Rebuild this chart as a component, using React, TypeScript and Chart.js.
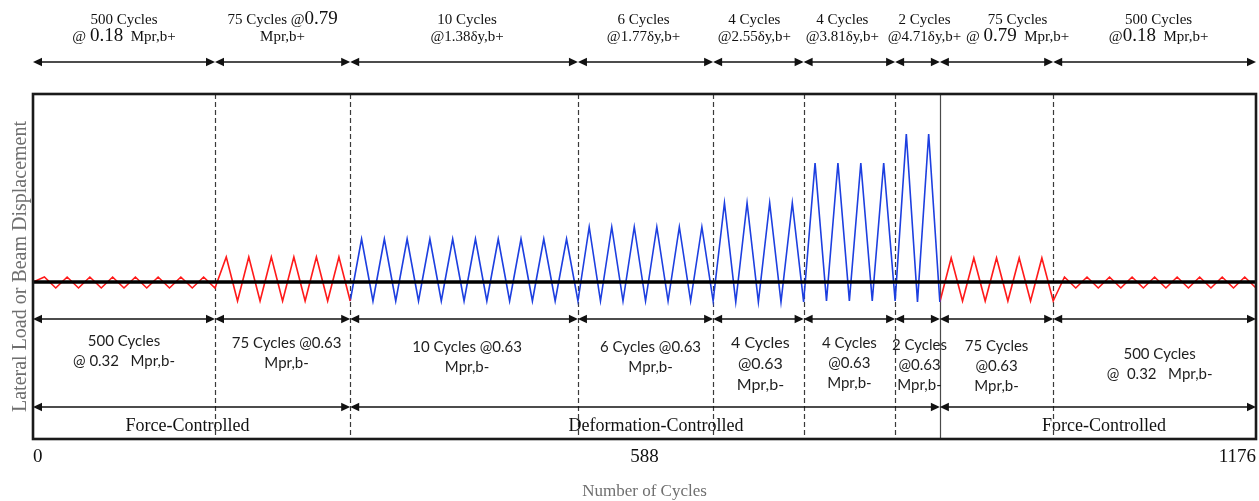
import React, { useEffect, useRef } from 'react';
import { Chart, registerables } from 'chart.js';

Chart.register(...registerables);

// ---------------- data ----------------
const xTickValues = [0, 588, 1176];
// loading-protocol segments along the (schematic) cycle axis
const segmentBounds = [0, 175, 305, 524, 654, 741, 829, 872, 981, 1176];
const segmentPeaks = [8, 6, 10, 6, 4, 4, 2, 5, 9];
const segmentPositive = [5, 25, 43, 55, 79, 119, 148, 24, 5];
const segmentNegative = [-6, -19, -19, -19, -20, -19, -20, -19, -6];
const segmentControl = ['force', 'force', 'deformation', 'deformation', 'deformation', 'deformation', 'deformation', 'force', 'force'];
const phaseBounds = [0, 305, 872, 1176];
const phaseLabels = ['Force-Controlled', 'Deformation-Controlled', 'Force-Controlled'];
const topLabels = [
  ['500 Cycles', '@ 0.18  Mpr,b+'],
  ['75 Cycles @0.79', 'Mpr,b+'],
  ['10 Cycles', '@1.38δy,b+'],
  ['6 Cycles', '@1.77δy,b+'],
  ['4 Cycles', '@2.55δy,b+'],
  ['4 Cycles', '@3.81δy,b+'],
  ['2 Cycles', '@4.71δy,b+'],
  ['75 Cycles', '@ 0.79  Mpr,b+'],
  ['500 Cycles', '@0.18  Mpr,b+'],
];
const bottomLabels = [
  ['500 Cycles', '@ 0.32   Mpr,b-'],
  ['75 Cycles @0.63', 'Mpr,b-'],
  ['10 Cycles @0.63', 'Mpr,b-'],
  ['6 Cycles @0.63', 'Mpr,b-'],
  ['4 Cycles', '@0.63', 'Mpr,b-'],
  ['4 Cycles', '@0.63', 'Mpr,b-'],
  ['2 Cycles', '@0.63', 'Mpr,b-'],
  ['75 Cycles', '@0.63', 'Mpr,b-'],
  ['500 Cycles', '@  0.32   Mpr,b-'],
];
const yTitle = 'Lateral Load or Beam Displacement';
const xTitle = 'Number of Cycles';

// ---------------- styles / layout ----------------
const W = 1259;
const H = 501;
const SERIF = '"Liberation Serif", "Times New Roman", serif';
const SANS = 'Lato, "Open Sans", sans-serif';
const controlColor: Record<string, string> = { force: '#ff1a1a', deformation: '#1d3fe0' };
const topDx = [0, 0, 3, -2, -4, -7, 7, 21, 4];
const bottomDx = [0, 4, 3, 5, 2, 0, 2, 0, 5];
const bottomBase = [346, 348, 352, 352, 348, 348, 350, 351, 359];
const bottomSize = [15, 15, 15, 15, 16, 15, 15, 15, 15];
const phaseDx = [-4, 11, 6];

function buildGroups() {
  const groups: { control: string; pts: { x: number; y: number }[] }[] = [];
  let last = { x: segmentBounds[0], y: 0 };
  segmentPeaks.forEach((n, i) => {
    const b0 = segmentBounds[i];
    const b1 = segmentBounds[i + 1];
    const step = (b1 - b0) / (2 * n);
    let g = groups[groups.length - 1];
    if (!g || g.control !== segmentControl[i]) {
      g = { control: segmentControl[i], pts: [last] };
      groups.push(g);
    }
    for (let k = 1; k <= 2 * n; k++) {
      last = { x: b0 + k * step, y: k % 2 ? segmentPositive[i] : segmentNegative[i] };
      g.pts.push(last);
    }
  });
  return groups;
}

function arrow(ctx: CanvasRenderingContext2D, x1: number, x2: number, y: number) {
  const hl = 9;
  const hw = 4.2;
  ctx.beginPath();
  ctx.moveTo(x1 + 2, y);
  ctx.lineTo(x2 - 2, y);
  ctx.lineWidth = 1.3;
  ctx.stroke();
  ctx.beginPath();
  ctx.moveTo(x1, y);
  ctx.lineTo(x1 + hl, y - hw);
  ctx.lineTo(x1 + hl, y + hw);
  ctx.closePath();
  ctx.fill();
  ctx.beginPath();
  ctx.moveTo(x2, y);
  ctx.lineTo(x2 - hl, y - hw);
  ctx.lineTo(x2 - hl, y + hw);
  ctx.closePath();
  ctx.fill();
}

function drawRich(ctx: CanvasRenderingContext2D, text: string, cx: number, y: number) {
  const parts = text.split(/(\d\.\d\d(?!δ))/).filter((p) => p.length > 0);
  const fontFor = (p: string) => `${/^\d\.\d\d$/.test(p) ? 19 : 15}px ${SERIF}`;
  let total = 0;
  parts.forEach((p) => {
    ctx.font = fontFor(p);
    total += ctx.measureText(p).width;
  });
  let x = cx - total / 2;
  ctx.textAlign = 'left';
  parts.forEach((p) => {
    ctx.font = fontFor(p);
    ctx.fillText(p, x, y);
    x += ctx.measureText(p).width;
  });
}

const annotations = {
  id: 'annotations',
  beforeDatasetsDraw(chart: any) {
    const { ctx, chartArea: a, scales } = chart;
    const x = scales.x;
    ctx.save();
    for (let i = 1; i < segmentBounds.length - 1; i++) {
      const px = Math.round(x.getPixelForValue(segmentBounds[i])) + 0.5;
      const solid = segmentBounds[i] === phaseBounds[2];
      ctx.beginPath();
      ctx.setLineDash(solid ? [] : [5, 3]);
      ctx.strokeStyle = solid ? '#4a4a4a' : '#3a3a3a';
      ctx.lineWidth = 1.2;
      ctx.moveTo(px, a.top);
      ctx.lineTo(px, a.bottom);
      ctx.stroke();
    }
    ctx.restore();
  },
  afterDraw(chart: any) {
    const { ctx, chartArea: a, scales } = chart;
    const x = scales.x;
    const px = (v: number) => x.getPixelForValue(v);
    ctx.save();
    ctx.setLineDash([]);
    // outer frame
    ctx.strokeStyle = '#1a1a1a';
    ctx.lineWidth = 2.6;
    ctx.strokeRect(a.left, a.top, a.right - a.left, a.bottom - a.top);

    // arrows
    ctx.strokeStyle = '#111';
    ctx.fillStyle = '#111';
    for (let i = 0; i < segmentBounds.length - 1; i++) {
      const x1 = px(segmentBounds[i]);
      const x2 = px(segmentBounds[i + 1]);
      arrow(ctx, x1, x2, 62);
      arrow(ctx, x1, x2, 319);
    }
    for (let i = 0; i < phaseBounds.length - 1; i++) {
      arrow(ctx, px(phaseBounds[i]), px(phaseBounds[i + 1]), 407);
    }

    // top labels (serif)
    ctx.fillStyle = '#111';
    ctx.textBaseline = 'alphabetic';
    topLabels.forEach((lines, i) => {
      const cx = (px(segmentBounds[i]) + px(segmentBounds[i + 1])) / 2 + topDx[i];
      lines.forEach((line, j) => drawRich(ctx, line, cx, j === 0 ? 24 : 41));
    });

    // bottom labels (sans)
    ctx.fillStyle = '#1e1e1e';
    ctx.textAlign = 'center';
    bottomLabels.forEach((lines, i) => {
      const cx = (px(segmentBounds[i]) + px(segmentBounds[i + 1])) / 2 + bottomDx[i];
      ctx.font = `${bottomSize[i]}px ${SANS}`;
      const lh = bottomSize[i] > 15 ? 21 : 20;
      lines.forEach((line, j) => ctx.fillText(line, cx, bottomBase[i] + j * lh));
    });

    // phase labels
    ctx.fillStyle = '#111';
    ctx.font = `18px ${SERIF}`;
    phaseLabels.forEach((t, i) => {
      const cx = (px(phaseBounds[i]) + px(phaseBounds[i + 1])) / 2 + phaseDx[i];
      ctx.fillText(t, cx, 431);
    });
    ctx.restore();
  },
};

export default function App() {
  const ref = useRef<HTMLCanvasElement | null>(null);

  useEffect(() => {
    if (!ref.current) return;
    const groups = buildGroups();
    const datasets: any[] = [
      {
        label: 'baseline',
        data: [
          { x: xTickValues[0], y: 0 },
          { x: xTickValues[xTickValues.length - 1], y: 0 },
        ],
        borderColor: '#000',
        borderWidth: 3.6,
        pointRadius: 0,
        order: 0,
      },
      ...groups.map((g) => ({
        label: g.control,
        data: g.pts,
        borderColor: controlColor[g.control],
        borderWidth: 1.6,
        pointRadius: 0,
        tension: 0,
        order: 1,
      })),
    ];

    const chart = new Chart(ref.current, {
      type: 'line',
      data: { datasets },
      options: {
        animation: false,
        responsive: false,
        devicePixelRatio: 1,
        layout: { padding: { top: 94, right: 3, left: 0, bottom: 0 } },
        plugins: { legend: { display: false }, tooltip: { enabled: false } },
        scales: {
          x: {
            type: 'linear',
            min: xTickValues[0],
            max: xTickValues[xTickValues.length - 1],
            grid: { display: false, drawTicks: true, tickLength: 5 },
            border: { display: false },
            afterBuildTicks: (s: any) => {
              s.ticks = xTickValues.map((v) => ({ value: v }));
            },
            afterFit: (s: any) => {
              s.height = 62;
            },
            ticks: {
              align: 'inner',
              autoSkip: false,
              maxRotation: 0,
              padding: 2,
              color: '#111',
              font: { family: SERIF, size: 19 },
              callback: (v: any) => String(v),
            },
            title: {
              display: true,
              text: xTitle,
              color: '#6f6f6f',
              font: { family: SERIF, size: 17, lineHeight: 1 },
              padding: { top: 0, bottom: 1 },
            },
          },
          y: {
            type: 'linear',
            min: -157,
            max: 188,
            grid: { display: false, drawTicks: false },
            border: { display: false },
            ticks: { display: false },
            afterFit: (s: any) => {
              s.width = 33;
            },
            title: {
              display: true,
              text: yTitle,
              color: '#6f6f6f',
              font: { family: SERIF, size: 20 },
              padding: { top: 9, bottom: 0 },
            },
          },
        },
      } as any,
      plugins: [annotations],
    });
    return () => chart.destroy();
  }, []);

  return (
    <div style={{ position: 'fixed', left: 0, top: 0, width: W, height: H, background: '#fff' }}>
      <canvas ref={ref} width={W} height={H} style={{ display: 'block', width: W, height: H }} />
    </div>
  );
}
